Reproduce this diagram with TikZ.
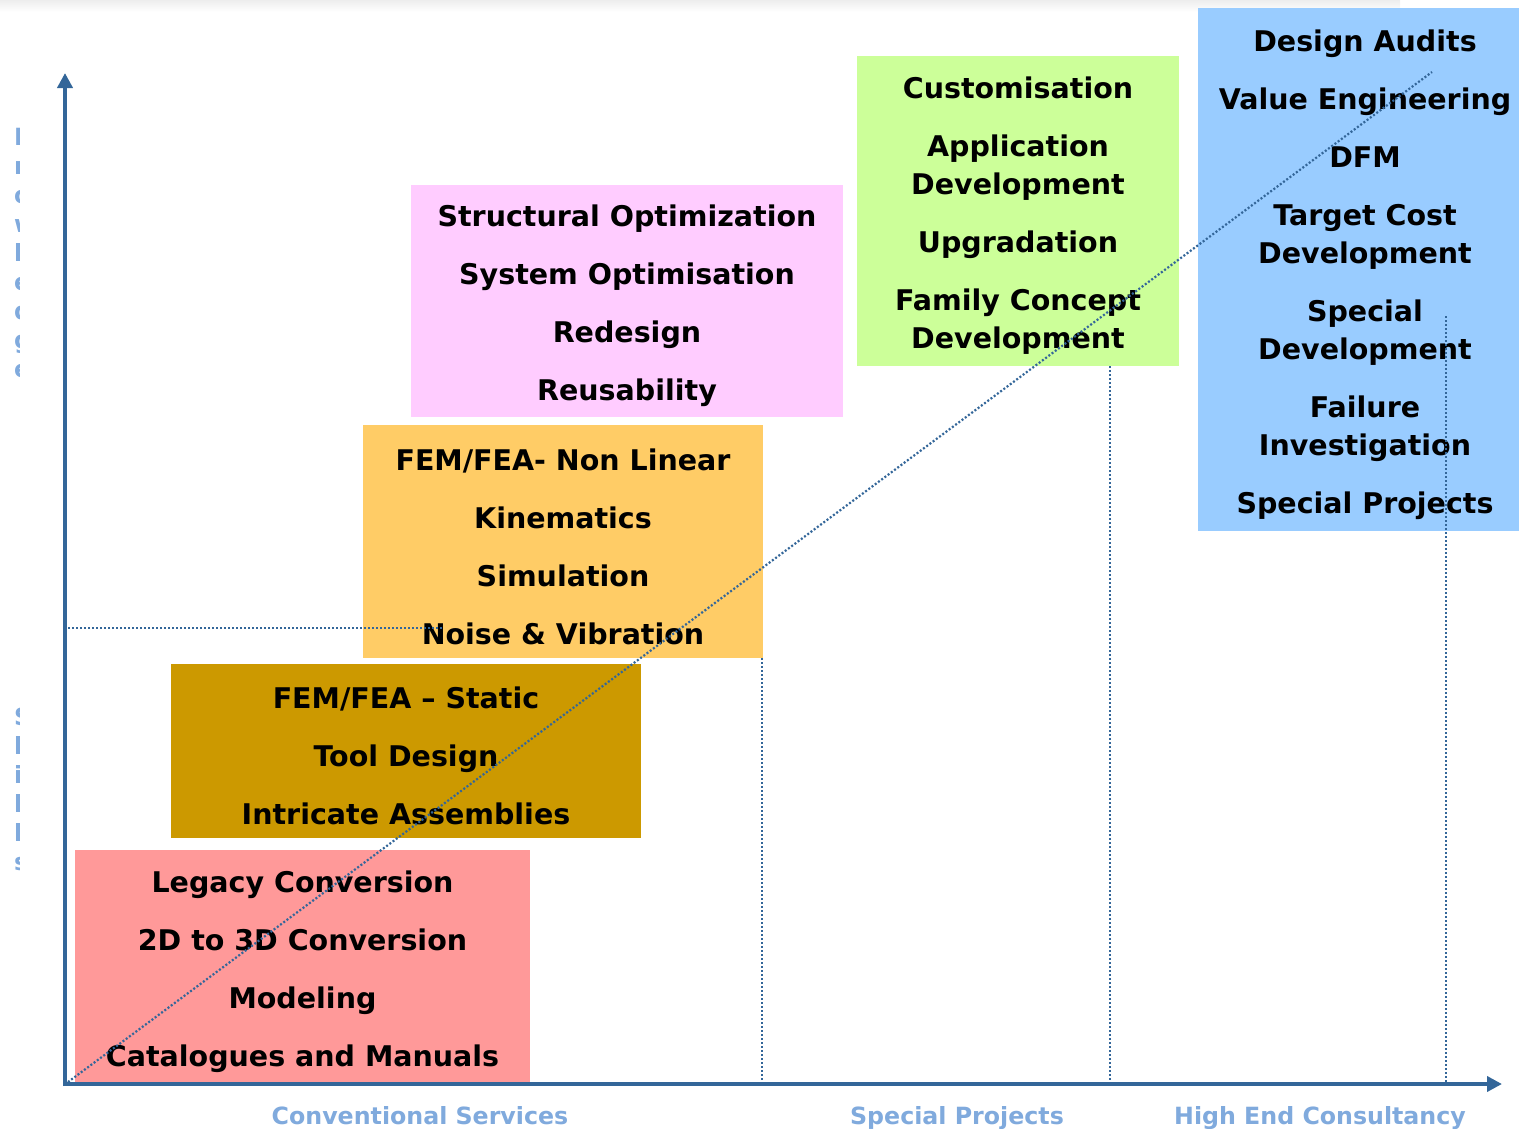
\documentclass[tikz,border=0pt]{standalone}
\usepackage{fontspec}
\setmainfont{DejaVu Sans}
\usetikzlibrary{arrows.meta}
\definecolor{axisblue}{HTML}{336699}
\definecolor{labelblue}{HTML}{80AADD}
\definecolor{legacyred}{HTML}{FF9999}
\definecolor{staticgold}{HTML}{CC9900}
\definecolor{nonlinorange}{HTML}{FFCC66}
\definecolor{optimpink}{HTML}{FFCCFF}
\definecolor{customgreen}{HTML}{CCFF99}
\definecolor{auditblue}{HTML}{99CCFF}
\tikzset{
  card/.style = {inner sep = 0pt},
  cardtext/.style = {inner sep = 0pt, align = center, yshift = -5pt, font = \fontsize{28.5}{38}\selectfont\bfseries},
  guide/.style = {axisblue, line width = 2.2pt, dash pattern = on 2pt off 2pt},
  axisline/.style = {axisblue, line width = 4pt, -{Triangle[length = 15pt, width = 15pt]}},
  axislabel/.style = {labelblue, font = \fontsize{23.7}{29}\selectfont\bfseries},
}
\begin{document}
\begin{tikzpicture}[x = 1pt, y = -1pt]
          \useasboundingbox (0, 0) rectangle (1519, 1128);
          \shade [top color = black!7, bottom color = white] (0, 0) rectangle (1400, 12);
          \begin{scope}
            \clip (0, 0) rectangle (19, 1128);
            \node [axislabel, inner sep = 0pt, anchor = north west, align = left] (knowledge) at (14, 128) {K\\n\\o\\w\\l\\e\\d\\g\\e};
            \node [axislabel, inner sep = 0pt, anchor = north west, align = left] (skills) at (14, 708) {S\\k\\i\\l\\l\\s};
          \end{scope}
          \node [card, fill = legacyred, minimum width = 455, minimum height = 233] (legacy) at (302.5, 966.5) {};
          \node [cardtext] (legacytext) at (legacy.center)
            {Legacy Conversion\\[20pt]2D to 3D Conversion\\[20pt]Modeling\\[20pt]Catalogues and Manuals};
          \node [card, fill = staticgold, minimum width = 470, minimum height = 174] (static) at (406, 751) {};
          \node [cardtext] (statictext) at (static.center)
            {FEM/FEA -- Static\\[20pt]Tool Design\\[20pt]Intricate Assemblies};
          \node [card, fill = nonlinorange, minimum width = 400, minimum height = 233] (nonlin) at (563, 541.5) {};
          \node [cardtext] (nonlintext) at (nonlin.center)
            {FEM/FEA- Non Linear\\[20pt]Kinematics\\[20pt]Simulation\\[20pt]Noise \& Vibration};
          \node [card, fill = optimpink, minimum width = 432, minimum height = 232] (optim) at (627, 301) {};
          \node [cardtext] (optimtext) at (optim.center)
            {Structural Optimization\\[20pt]System Optimisation\\[20pt]Redesign\\[20pt]Reusability};
          \node [card, fill = customgreen, minimum width = 322, minimum height = 310] (custom) at (1018, 211) {};
          \node [cardtext] (customtext) at (custom.center)
            {Customisation\\[20pt]Application\\Development\\[20pt]Upgradation\\[20pt]Family Concept\\Development};
          \node [card, fill = auditblue, minimum width = 334, minimum height = 523] (audit) at (1365, 269.5) {};
          \node [cardtext] (audittext) at (audit.center)
            {Design Audits\\[20pt]Value Engineering\\[20pt]DFM\\[20pt]Target Cost\\Development\\[20pt]Special\\Development\\[20pt]Failure\\Investigation\\[20pt]Special Projects};
          \coordinate (origin) at (65, 1084);
          \coordinate (ytip) at (65, 73);
          \coordinate (xtip) at (1502, 1084);
          \coordinate (diagstart) at (68, 1082);
          \coordinate (diagend) at (1432, 72);
          \coordinate (levelstart) at (68, 628);
          \coordinate (levelend) at (442, 628);
          \coordinate (conventionaltop) at (762, 658);
          \coordinate (specialtop) at (1110, 366);
          \coordinate (hightop) at (1446, 316);
          \draw [guide] (diagstart) -- (diagend);
          \draw [guide] (levelstart) -- (levelend);
          \draw [guide] (conventionaltop) -- (conventionaltop |- origin);
          \draw [guide] (specialtop) -- (specialtop |- origin);
          \draw [guide] (hightop) -- (hightop |- origin);
          \draw [axisline] (65, 1086) -- (ytip);
          \draw [axisline] (63, 1084) -- (xtip);
          \node [axislabel, anchor = base] (conventional) at (420, 1124) {Conventional Services};
          \node [axislabel, anchor = base] (special) at (957, 1124) {Special Projects};
          \node [axislabel, anchor = base] (highend) at (1320, 1124) {High End Consultancy};
        \end{tikzpicture}
\end{document}
